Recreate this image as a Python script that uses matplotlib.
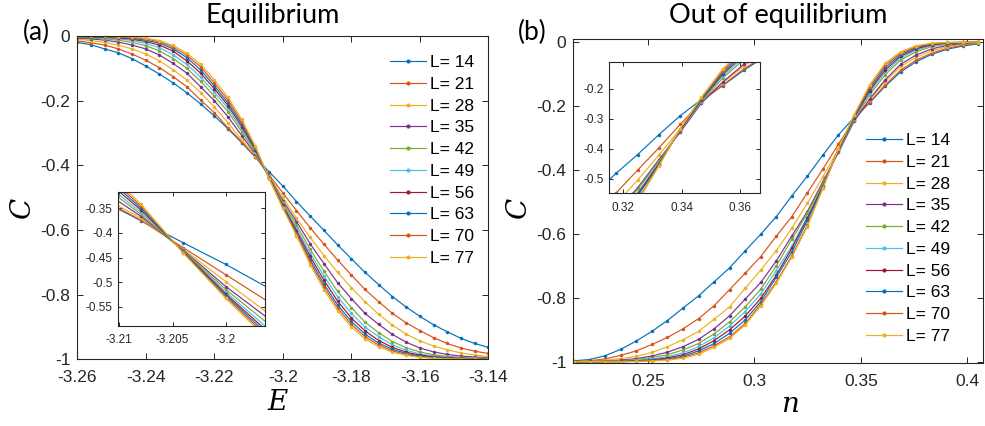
import matplotlib
matplotlib.use("Agg")
import matplotlib.pyplot as plt
from matplotlib.ticker import FuncFormatter

plt.rcParams['font.family'] = ['Liberation Sans', 'DejaVu Sans']
plt.rcParams['axes.unicode_minus'] = False

# ---- data ----
sizes = [14, 21, 28, 35, 42, 49, 56, 63, 70, 77]

E = [-3.26, -3.256, -3.252, -3.248, -3.244, -3.24, -3.236, -3.232, -3.228, -3.224,
     -3.22, -3.216, -3.212, -3.208, -3.204, -3.2, -3.196, -3.192, -3.188, -3.184,
     -3.18, -3.176, -3.172, -3.168, -3.164, -3.16, -3.156, -3.152, -3.148, -3.144, -3.14]

eq_L14 = [-0.020, -0.027, -0.040, -0.052, -0.070, -0.093, -0.118, -0.145, -0.176, -0.210,
          -0.247, -0.287, -0.330, -0.375, -0.420, -0.464, -0.512, -0.557, -0.601, -0.646,
          -0.689, -0.731, -0.769, -0.806, -0.838, -0.867, -0.893, -0.915, -0.935, -0.951, -0.963]
eq_L21 = [-0.015, -0.021, -0.028, -0.040, -0.056, -0.075, -0.098, -0.126, -0.157, -0.198,
          -0.237, -0.284, -0.327, -0.374, -0.430, -0.485, -0.540, -0.593, -0.644, -0.693,
          -0.739, -0.784, -0.822, -0.858, -0.887, -0.911, -0.933, -0.951, -0.965, -0.975, -0.982]
eq_L28 = [-0.010, -0.014, -0.020, -0.028, -0.040, -0.056, -0.077, -0.105, -0.136, -0.175,
          -0.220, -0.268, -0.322, -0.370, -0.433, -0.499, -0.564, -0.623, -0.679, -0.731,
          -0.778, -0.822, -0.861, -0.894, -0.922, -0.943, -0.959, -0.971, -0.980, -0.987, -0.991]
eq_L35 = [-0.007, -0.009, -0.013, -0.019, -0.028, -0.040, -0.059, -0.085, -0.115, -0.157,
          -0.200, -0.250, -0.308, -0.366, -0.435, -0.509, -0.574, -0.643, -0.704, -0.763,
          -0.812, -0.858, -0.892, -0.923, -0.947, -0.965, -0.977, -0.985, -0.990, -0.993, -0.995]
eq_L42 = [-0.005, -0.006, -0.009, -0.013, -0.020, -0.030, -0.046, -0.070, -0.100, -0.140,
          -0.186, -0.234, -0.296, -0.362, -0.436, -0.515, -0.585, -0.660, -0.727, -0.790,
          -0.840, -0.885, -0.918, -0.945, -0.964, -0.977, -0.986, -0.991, -0.994, -0.996, -0.997]
eq_L49 = [-0.003, -0.004, -0.006, -0.009, -0.014, -0.023, -0.036, -0.058, -0.088, -0.127,
          -0.174, -0.224, -0.288, -0.358, -0.437, -0.520, -0.595, -0.672, -0.742, -0.806,
          -0.858, -0.900, -0.930, -0.955, -0.972, -0.983, -0.990, -0.994, -0.996, -0.997, -0.998]
eq_L56 = [-0.002, -0.003, -0.004, -0.006, -0.010, -0.017, -0.028, -0.047, -0.077, -0.115,
          -0.163, -0.215, -0.280, -0.353, -0.438, -0.524, -0.602, -0.682, -0.755, -0.820,
          -0.872, -0.912, -0.942, -0.963, -0.978, -0.987, -0.992, -0.995, -0.997, -0.998, -0.999]
eq_L63 = [-0.001, -0.002, -0.003, -0.004, -0.007, -0.013, -0.022, -0.040, -0.067, -0.105,
          -0.154, -0.207, -0.272, -0.349, -0.439, -0.527, -0.608, -0.692, -0.767, -0.832,
          -0.883, -0.922, -0.950, -0.969, -0.982, -0.990, -0.994, -0.997, -0.998, -0.999, -0.999]
eq_L70 = [-0.001, -0.001, -0.002, -0.003, -0.005, -0.009, -0.018, -0.034, -0.060, -0.095,
          -0.145, -0.198, -0.265, -0.345, -0.440, -0.530, -0.613, -0.700, -0.776, -0.841,
          -0.892, -0.930, -0.956, -0.974, -0.985, -0.992, -0.996, -0.998, -0.999, -0.999, -1.000]
eq_L77 = [0.000, -0.001, -0.001, -0.002, -0.003, -0.007, -0.014, -0.029, -0.053, -0.087,
          -0.135, -0.190, -0.258, -0.341, -0.441, -0.533, -0.618, -0.707, -0.785, -0.850,
          -0.900, -0.937, -0.962, -0.978, -0.988, -0.994, -0.997, -0.998, -0.999, -1.000, -1.000]

n = [0.2154, 0.2227, 0.2300, 0.2373, 0.2446, 0.2519, 0.2592, 0.2665, 0.2738, 0.2811,
     0.2884, 0.2957, 0.3030, 0.3103, 0.3176, 0.3249, 0.3322, 0.3395, 0.3468, 0.3541,
     0.3614, 0.3687, 0.3760, 0.3833, 0.3906, 0.3979, 0.4052]

neq_L14 = [-0.997, -0.993, -0.981, -0.961, -0.935, -0.905, -0.871, -0.832, -0.794, -0.750,
           -0.706, -0.653, -0.601, -0.546, -0.481, -0.419, -0.353, -0.290, -0.236, -0.190,
           -0.138, -0.093, -0.061, -0.038, -0.022, -0.012, -0.005]
neq_L21 = [-0.999, -0.997, -0.991, -0.980, -0.966, -0.946, -0.924, -0.897, -0.865, -0.825,
           -0.774, -0.723, -0.671, -0.607, -0.546, -0.471, -0.397, -0.319, -0.243, -0.188,
           -0.134, -0.088, -0.056, -0.034, -0.019, -0.009, -0.003]
neq_L28 = [-1.000, -0.998, -0.995, -0.990, -0.983, -0.971, -0.953, -0.931, -0.905, -0.867,
           -0.828, -0.770, -0.713, -0.652, -0.582, -0.504, -0.421, -0.335, -0.243, -0.180,
           -0.124, -0.076, -0.047, -0.027, -0.014, -0.006, -0.002]
neq_L35 = [-1.000, -0.999, -0.998, -0.995, -0.990, -0.982, -0.970, -0.953, -0.930, -0.897,
           -0.856, -0.804, -0.752, -0.685, -0.606, -0.530, -0.436, -0.345, -0.248, -0.178,
           -0.118, -0.069, -0.040, -0.021, -0.010, -0.004, -0.001]
neq_L42 = [-1.000, -1.000, -0.999, -0.997, -0.993, -0.987, -0.978, -0.963, -0.943, -0.913,
           -0.875, -0.828, -0.773, -0.700, -0.617, -0.535, -0.442, -0.340, -0.244, -0.165,
           -0.102, -0.056, -0.030, -0.014, -0.006, -0.002, -0.001]
neq_L49 = [-1.000, -1.000, -1.000, -0.998, -0.995, -0.991, -0.984, -0.972, -0.953, -0.925,
           -0.888, -0.843, -0.788, -0.715, -0.638, -0.546, -0.447, -0.338, -0.240, -0.158,
           -0.094, -0.050, -0.025, -0.011, -0.004, -0.001, 0.000]
neq_L56 = [-1.000, -1.000, -1.000, -0.999, -0.997, -0.994, -0.988, -0.978, -0.960, -0.934,
           -0.900, -0.857, -0.802, -0.729, -0.645, -0.551, -0.450, -0.337, -0.237, -0.152,
           -0.087, -0.044, -0.021, -0.008, -0.003, -0.001, 0.000]
neq_L63 = [-1.000, -1.000, -1.000, -1.000, -0.998, -0.996, -0.991, -0.983, -0.966, -0.943,
           -0.911, -0.869, -0.812, -0.736, -0.656, -0.558, -0.452, -0.336, -0.235, -0.146,
           -0.079, -0.039, -0.017, -0.006, -0.002, -0.001, 0.000]
neq_L70 = [-1.000, -1.000, -1.000, -1.000, -0.999, -0.997, -0.993, -0.986, -0.972, -0.950,
           -0.922, -0.880, -0.820, -0.750, -0.669, -0.572, -0.455, -0.334, -0.232, -0.140,
           -0.072, -0.034, -0.014, -0.005, -0.001, 0.000, 0.000]
neq_L77 = [-1.000, -1.000, -1.000, -1.000, -0.999, -0.998, -0.995, -0.989, -0.977, -0.955,
           -0.927, -0.885, -0.825, -0.755, -0.673, -0.577, -0.457, -0.333, -0.228, -0.134,
           -0.066, -0.030, -0.011, -0.003, -0.001, 0.000, 0.000]

eq_curves = [eq_L14, eq_L21, eq_L28, eq_L35, eq_L42, eq_L49, eq_L56, eq_L63, eq_L70, eq_L77]
neq_curves = [neq_L14, neq_L21, neq_L28, neq_L35, neq_L42, neq_L49, neq_L56, neq_L63, neq_L70, neq_L77]

# MATLAB default line colours
colors = ['#0072BD', '#D95319', '#EDB120', '#7E2F8E', '#77AC30', '#4DBEEE', '#A2142F']

W, H = 985, 426
fmt = FuncFormatter(lambda v, p: '%g' % round(v, 4))


def style(ax, size, pad_x, pad_y, tick_len):
    for s in ax.spines.values():
        s.set_linewidth(0.8)
        s.set_color('#262626')
    ax.tick_params(direction='in', top=True, right=True, length=tick_len, width=0.7,
                   labelsize=size, colors='#262626')
    ax.tick_params(axis='x', pad=pad_x)
    ax.tick_params(axis='y', pad=pad_y)
    ax.xaxis.set_major_formatter(fmt)
    ax.yaxis.set_major_formatter(fmt)


def draw(ax, x, curves, labels=True):
    for i, c in enumerate(curves):
        ax.plot(x, c, color=colors[i % 7], lw=0.85, marker='o', ms=2.5, mew=0,
                label='L= %d' % sizes[i] if labels else None)


def frac(l, t, r, b):
    return [l / W, 1 - b / H, (r - l) / W, (b - t) / H]


def legend(ax, left, top):
    ax.legend(loc='upper left', bbox_to_anchor=(left / W, 1 - top / H),
              bbox_transform=fig.transFigure, frameon=False, fontsize=12.5,
              handlelength=2.1, handletextpad=0.2, labelspacing=0.38,
              borderpad=0, borderaxespad=0, numpoints=1, markerscale=1.2)


fig = plt.figure(figsize=(W / 100, H / 100), dpi=100)

# ---- panel (a) ----
ax1 = fig.add_axes(frac(77.3, 36, 488.3, 359.3))
draw(ax1, E, eq_curves)
ax1.set_xlim(-3.26, -3.14)
ax1.set_ylim(-1, 0)
ax1.set_xticks([-3.26, -3.24, -3.22, -3.2, -3.18, -3.16, -3.14])
ax1.set_yticks([0, -0.2, -0.4, -0.6, -0.8, -1])
style(ax1, 12.5, 8, 5, 4)
legend(ax1, 390, 55)

in1 = fig.add_axes(frac(118.3, 192.3, 265.3, 326))
draw(in1, E, eq_curves, labels=False)
in1.set_xlim(-3.2101, -3.1963)
in1.set_ylim(-0.589, -0.3175)
in1.set_xticks([-3.21, -3.205, -3.2])
in1.set_yticks([-0.35, -0.4, -0.45, -0.5, -0.55])
style(in1, 8.5, 6, 4, 3)

# ---- panel (b) ----
ax2 = fig.add_axes(frac(573.3, 39.3, 983.3, 362.7))
draw(ax2, n, neq_curves)
ax2.set_xlim(0.2150, 0.4075)
ax2.set_ylim(-1.003, 0.009)
ax2.set_xticks([0.25, 0.3, 0.35, 0.4])
ax2.set_yticks([0, -0.2, -0.4, -0.6, -0.8, -1])
style(ax2, 12.5, 8, 5, 4)
legend(ax2, 865.7, 133)

in2 = fig.add_axes(frac(609.3, 61.7, 760, 193.3))
draw(in2, n, neq_curves, labels=False)
in2.set_xlim(0.3152, 0.3669)
in2.set_ylim(-0.548, -0.11)
in2.set_xticks([0.32, 0.34, 0.36])
in2.set_yticks([-0.2, -0.3, -0.4, -0.5])
style(in2, 8.5, 6, 4, 3)

# ---- titles, panel tags, axis labels ----
fig.text(273 / W, 1 - 16 / H, 'Equilibrium', family='Lato', fontsize=19.5,
         ha='center', va='center')
fig.text(778 / W, 1 - 16 / H, 'Out of equilibrium', family='Lato', fontsize=19.5,
         ha='center', va='center')
fig.text(36 / W, 1 - 32 / H, '(a)', family='Lato', fontsize=19, ha='center', va='center')
fig.text(532 / W, 1 - 32 / H, '(b)', family='Lato', fontsize=19, ha='center', va='center')

lab = dict(family='DejaVu Serif', style='italic', fontsize=20, ha='center', va='center')
fig.text(22 / W, 1 - 207 / H, 'C', rotation=90, **lab)
fig.text(278 / W, 1 - 403 / H, 'E', **lab)
fig.text(518 / W, 1 - 207 / H, 'C', rotation=90, **lab)
fig.text(790 / W, 1 - 405 / H, 'n', **lab)

fig.savefig('out.png', dpi=100)
